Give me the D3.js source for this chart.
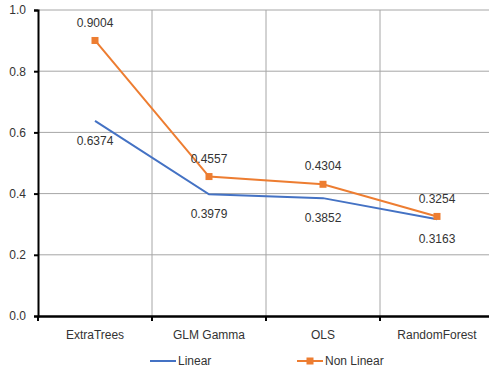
<!DOCTYPE html>
<html><head><meta charset="utf-8">
<script src="https://cdn.jsdelivr.net/npm/d3@7/dist/d3.min.js"></script>
<style>body{margin:0;background:#fff}svg{display:block}</style>
</head><body>
<svg id="c" width="489" height="369"></svg>
<script>
const categories = ["ExtraTrees", "GLM Gamma", "OLS", "RandomForest"];
const linear = [0.6374, 0.3979, 0.3852, 0.3163];
const nonLinear = [0.9004, 0.4557, 0.4304, 0.3254];
const yTicks = [0.0, 0.2, 0.4, 0.6, 0.8, 1.0];
const seriesNames = ["Linear", "Non Linear"];

const svg = d3.select("#c");
const font = "Liberation Sans, Arial, sans-serif";
const fs = 12, tc = "#333";
const L = 38, R = 494, T = 10, B = 316;
const x = d3.scaleBand().domain(categories).range([L, R]);
const y = d3.scaleLinear().domain([0, 1]).range([B, T]);
const cx = d => x(d) + x.bandwidth() / 2;

// gridlines
const g = svg.append("g");
g.selectAll(".hg").data(yTicks.slice(1)).join("line")
  .attr("x1", L).attr("x2", R).attr("y1", d => y(d)).attr("y2", d => y(d))
  .attr("stroke", "#a6a6a6").attr("stroke-width", 1);
g.selectAll(".vg").data(categories.slice(1).concat(["_end"])).join("line")
  .attr("x1", (d, i) => L + x.bandwidth() * (i + 1)).attr("x2", (d, i) => L + x.bandwidth() * (i + 1))
  .attr("y1", T).attr("y2", B)
  .attr("stroke", "#a6a6a6").attr("stroke-width", 1);

// y axis
const ya = svg.append("g").attr("transform", `translate(${L},0)`)
  .call(d3.axisLeft(y).tickValues(yTicks).tickFormat(d3.format(".1f")).tickSize(4).tickPadding(8));
ya.select(".domain").attr("stroke", "#000").attr("stroke-width", 2);
ya.selectAll(".tick line").attr("stroke", "#000").attr("stroke-width", 2);
ya.selectAll("text").attr("font-family", font).attr("font-size", fs).attr("fill", tc);

// x axis
const xa = svg.append("g").attr("transform", `translate(0,${B})`)
  .call(d3.axisBottom(x).tickSize(0).tickPadding(14));
xa.select(".domain").attr("stroke", "#000").attr("stroke-width", 2.5);
xa.selectAll(".tick text").attr("font-family", font).attr("font-size", fs).attr("fill", tc);
svg.append("g").selectAll("line").data(d3.range(categories.length + 1)).join("line")
  .attr("x1", i => L + i * x.bandwidth()).attr("x2", i => L + i * x.bandwidth())
  .attr("y1", B).attr("y2", B + 5).attr("stroke", "#000").attr("stroke-width", 2);

const line = d3.line().x((d, i) => cx(categories[i])).y(d => y(d));
const colors = ["#4472C4", "#ED7D31"];

svg.append("path").datum(linear).attr("d", line).attr("fill", "none")
  .attr("stroke", colors[0]).attr("stroke-width", 2);
svg.append("path").datum(nonLinear).attr("d", line).attr("fill", "none")
  .attr("stroke", colors[1]).attr("stroke-width", 2);
svg.selectAll(".m").data(nonLinear).join("rect")
  .attr("x", (d, i) => cx(categories[i]) - 3.5).attr("y", d => y(d) - 3.5)
  .attr("width", 7).attr("height", 7).attr("fill", colors[1]);

// labels
svg.selectAll(".ll").data(linear).join("text")
  .attr("x", (d, i) => cx(categories[i])).attr("y", d => y(d) + 20)
  .attr("dy", "0.35em").attr("text-anchor", "middle")
  .attr("font-family", font).attr("font-size", fs).attr("fill", tc)
  .text(d => d.toFixed(4));
svg.selectAll(".nl").data(nonLinear).join("text")
  .attr("x", (d, i) => cx(categories[i])).attr("y", d => y(d) - 18)
  .attr("dy", "0.35em").attr("text-anchor", "middle")
  .attr("font-family", font).attr("font-size", fs).attr("fill", tc)
  .text(d => d.toFixed(4));

// legend
const lg = svg.append("g");
const lx = [150, 297], ly = 361;
seriesNames.forEach((n, i) => {
  lg.append("line").attr("x1", lx[i]).attr("x2", lx[i] + 26).attr("y1", ly).attr("y2", ly)
    .attr("stroke", colors[i]).attr("stroke-width", 2);
  if (i === 1) lg.append("rect").attr("x", lx[i] + 13 - 3.5).attr("y", ly - 3.5)
    .attr("width", 7).attr("height", 7).attr("fill", colors[i]);
  lg.append("text").attr("x", lx[i] + 28).attr("y", ly).attr("dy", "0.35em")
    .attr("font-family", font).attr("font-size", fs).attr("fill", tc).text(n);
});
</script>
</body></html>
